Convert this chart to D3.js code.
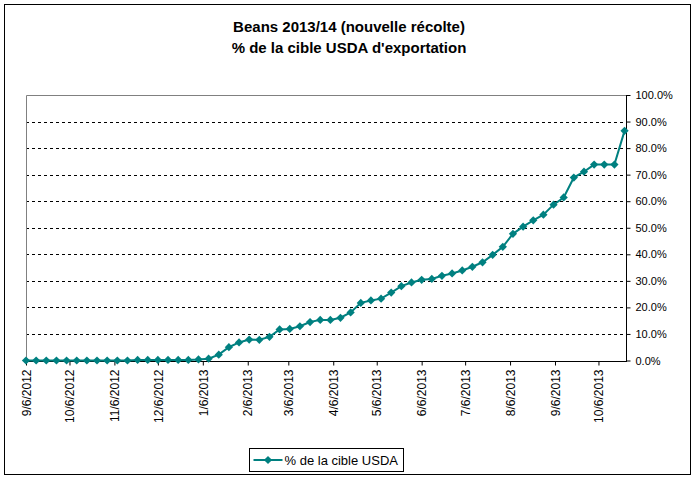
<!DOCTYPE html>
<html>
<head>
<meta charset="utf-8">
<script src="https://cdn.jsdelivr.net/npm/d3@7"></script>
<style>
  body { margin: 0; background: #fff; }
  text { font-family: "Liberation Sans", Arial, sans-serif; }
</style>
</head>
<body>
<script>
// Chart data, weekly
const weeks = [
  "2012-09-06","2012-09-13","2012-09-20","2012-09-27","2012-10-04","2012-10-11","2012-10-18","2012-10-25",
  "2012-11-01","2012-11-08","2012-11-15","2012-11-22","2012-11-29","2012-12-06","2012-12-13","2012-12-20","2012-12-27",
  "2013-01-03","2013-01-10","2013-01-17","2013-01-24","2013-01-31","2013-02-07","2013-02-14","2013-02-21","2013-02-28",
  "2013-03-07","2013-03-14","2013-03-21","2013-03-28","2013-04-04","2013-04-11","2013-04-18","2013-04-25",
  "2013-05-02","2013-05-09","2013-05-16","2013-05-23","2013-05-30","2013-06-06","2013-06-13","2013-06-20","2013-06-27",
  "2013-07-04","2013-07-11","2013-07-18","2013-07-25","2013-08-01","2013-08-08","2013-08-15","2013-08-22","2013-08-29",
  "2013-09-05","2013-09-12","2013-09-19","2013-09-26","2013-10-03","2013-10-10","2013-10-17","2013-10-24"
];
const pctTarget = [
  0,0,0,0,0,0,0,0,0,0,0,0.2,0.2,0.2,0.2,0.2,0.2,
  0.4,0.7,2.2,5.0,6.8,7.9,7.8,8.9,11.7,11.9,12.9,14.5,15.3,15.3,16.1,18.1,21.7,22.6,23.3,25.6,
  28.0,29.4,30.4,30.7,31.9,32.8,33.9,35.3,37.0,39.8,42.8,47.7,50.4,52.8,54.9,58.7,61.4,68.9,71.1,
  73.8,73.8,73.8,86.5
];
const xTicks = ["2012-09-06","2012-10-06","2012-11-06","2012-12-06","2013-01-06","2013-02-06","2013-03-06",
  "2013-04-06","2013-05-06","2013-06-06","2013-07-06","2013-08-06","2013-09-06","2013-10-06"];
const yTicks = [0,10,20,30,40,50,60,70,80,90,100];
const titleLines = ["Beans 2013/14 (nouvelle récolte)", "% de la cible USDA d'exportation"];
const seriesName = "% de la cible USDA";

const W = 698, H = 481;
const plotL = 26, plotR = 626, plotT = 95, plotB = 360.5;
const teal = "#008080";

const parse = d3.utcParse("%Y-%m-%d");
const data = weeks.map((w, i) => ({ date: parse(w), v: pctTarget[i] }));

const svg = d3.select("body").append("svg")
    .attr("width", W)
    .attr("height", H);

// outer frame
svg.append("rect")
    .attr("x", 4.5).attr("y", 4.5)
    .attr("width", 686).attr("height", 470)
    .attr("fill", "#fff")
    .attr("stroke", "#000");

const x = d3.scaleUtc()
    .domain([parse("2012-09-06"), parse("2013-10-25")])
    .range([plotL, plotR]);
const y = d3.scaleLinear().domain([0, 100]).range([plotB, plotT]);

// title
svg.append("g").selectAll("text")
    .data(titleLines)
    .join("text")
    .attr("x", 349)
    .attr("y", (d, i) => 32 + i * 21)
    .attr("text-anchor", "middle")
    .attr("font-size", 15)
    .attr("font-weight", "bold")
    .text(d => d);

// gridlines (dashed)
svg.append("g")
    .selectAll("line")
    .data(yTicks.filter(t => t > 0 && t < 100))
    .join("line")
    .attr("x1", plotL).attr("x2", plotR)
    .attr("y1", d => Math.round(y(d)) + 0.5)
    .attr("y2", d => Math.round(y(d)) + 0.5)
    .attr("stroke", "#000")
    .attr("stroke-dasharray", "3,3");

// plot area border, top and left in gray
svg.append("path")
    .attr("d", `M${plotL + 0.5},${plotB}V${plotT + 0.5}H${plotR}`)
    .attr("fill", "none")
    .attr("stroke", "#808080");

// right y axis
const yAxis = svg.append("g")
    .attr("transform", `translate(${plotR + 0.5},0)`)
    .call(d3.axisRight(y).tickValues(yTicks).tickSize(4).tickPadding(5)
        .tickFormat(d => d.toFixed(1) + "%"));
yAxis.select(".domain").attr("d", `M0,${plotT}V${plotB + 0.5}`);
yAxis.selectAll("text").attr("font-size", 11).attr("font-family", null);

// bottom x axis
const fmt = d3.utcFormat("%-m/%-d/%Y");
const xAxis = svg.append("g")
    .attr("transform", `translate(0,${Math.round(plotB) + 0.5})`)
    .call(d3.axisBottom(x).tickValues(xTicks.map(parse)).tickSize(4).tickSizeOuter(0).tickFormat(fmt));
xAxis.select(".domain").attr("d", `M${plotL},0H${plotR + 1}`);
xAxis.selectAll(".tick text")
    .attr("font-size", 12)
    .attr("font-family", null)
    .attr("transform", "rotate(-90)")
    .attr("text-anchor", "end")
    .attr("x", -8)
    .attr("y", 0)
    .attr("dy", "0.35em");

// series line
svg.append("path")
    .datum(data)
    .attr("fill", "none")
    .attr("stroke", teal)
    .attr("stroke-width", 2)
    .attr("d", d3.line().x(d => x(d.date)).y(d => y(d.v)));

const diamond = d3.symbol().type(d3.symbolSquare).size(34);
svg.append("g")
    .selectAll("path")
    .data(data)
    .join("path")
    .attr("d", diamond())
    .attr("transform", d => `translate(${x(d.date)},${y(d.v)}) rotate(45)`)
    .attr("fill", teal);

// legend
const lg = svg.append("g").attr("transform", "translate(249.5,448.5)");
lg.append("rect").attr("width", 154).attr("height", 23)
    .attr("fill", "#fff").attr("stroke", "#000");
lg.append("line").attr("x1", 4).attr("x2", 33).attr("y1", 11.5).attr("y2", 11.5)
    .attr("stroke", teal).attr("stroke-width", 2);
lg.append("path").attr("d", diamond())
    .attr("transform", "translate(18.5,11.5) rotate(45)")
    .attr("fill", teal);
lg.append("text").attr("x", 35).attr("y", 16)
    .attr("font-size", 13)
    .text(seriesName);
</script>
</body>
</html>
